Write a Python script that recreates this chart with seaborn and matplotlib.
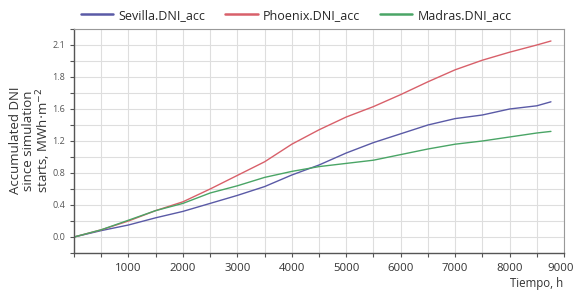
import pandas as pd
import numpy as np
import matplotlib
matplotlib.use("Agg")
import matplotlib.pyplot as plt
import matplotlib.transforms as mtransforms
import seaborn as sns
from matplotlib.ticker import MultipleLocator

hours = [0, 500, 1000, 1500, 2000, 2500, 3000, 3500, 4000, 4500, 5000,
         5500, 6000, 6500, 7000, 7500, 8000, 8500, 8760]
sevilla = [0.0, 0.08, 0.15, 0.24, 0.32, 0.42, 0.52, 0.63, 0.775, 0.90, 1.05,
           1.18, 1.29, 1.40, 1.48, 1.525, 1.60, 1.64, 1.69]
phoenix = [0.0, 0.09, 0.20, 0.33, 0.44, 0.60, 0.77, 0.94, 1.16, 1.34, 1.50,
           1.63, 1.78, 1.94, 2.09, 2.21, 2.31, 2.40, 2.45]
madras = [0.0, 0.09, 0.21, 0.33, 0.42, 0.55, 0.64, 0.745, 0.82, 0.88, 0.92,
          0.96, 1.03, 1.10, 1.16, 1.20, 1.25, 1.30, 1.32]
series_names = ["Sevilla.DNI_acc", "Phoenix.DNI_acc", "Madras.DNI_acc"]
ytick_pos = [0.0, 0.4, 0.8, 1.2, 1.6, 2.0, 2.4]
ytick_labels = ["0.0", "0.4", "0.8", "1.2", "1.6", "1.8", "2.1"]
xtick_pos = [1000, 2000, 3000, 4000, 5000, 6000, 7000, 8000, 9000]

df = pd.DataFrame({"Tiempo": hours * 3,
                   "DNI": sevilla + phoenix + madras,
                   "serie": np.repeat(series_names, len(hours))})

sns.set_style("white")
plt.rcParams['font.family'] = ['Open Sans', 'DejaVu Sans']

fig = plt.figure(figsize=(5.74, 2.90), dpi=100)
ax = fig.add_axes([0.129, 0.1276, 0.8536, 0.7724])

palette = {"Sevilla.DNI_acc": "#5a5aa6", "Phoenix.DNI_acc": "#d8606a",
           "Madras.DNI_acc": "#4aa566"}
sns.lineplot(data=df, x="Tiempo", y="DNI", hue="serie", palette=palette,
             linewidth=1.0, ax=ax, legend=True)

ax.set_xlim(0, 9000)
ax.set_ylim(-0.2, 2.6)
ax.set_xticks(xtick_pos)
ax.set_xticklabels([str(v) for v in xtick_pos], fontsize=8.2, color="#333333")
ax.xaxis.set_minor_locator(MultipleLocator(500))
ax.set_yticks(ytick_pos)
ax.set_yticklabels(ytick_labels, fontsize=6.5, color="#555555")
ax.yaxis.set_minor_locator(MultipleLocator(0.2))
ax.grid(True, which="both", color="#dedede", linewidth=0.8)
ax.tick_params(which="both", direction="out", length=3, width=0.8,
               color="#555555", bottom=True, left=True)
ax.tick_params(axis="x", pad=4)
for side in ["left", "bottom"]:
    ax.spines[side].set_color("#555555")
    ax.spines[side].set_linewidth(1.0)
for side in ["top", "right"]:
    ax.spines[side].set_color("#999999")
    ax.spines[side].set_linewidth(0.8)

# keep the last label inside the picture
last = ax.get_xticklabels()[-1]
last.set_transform(last.get_transform() +
                   mtransforms.ScaledTranslation(-3 / 100, 0, fig.dpi_scale_trans))

ax.set_xlabel("")
ax.set_ylabel("")
fig.text(0.054, 0.515, "Accumulated DNI\nsince simulation\nstarts, MWh$\\cdot$m$^{-2}$",
         fontsize=9.5, color="#333333", rotation=90, ha="center", va="center",
         linespacing=1.0, multialignment="center")
fig.text(0.935, 0.012, "Tiempo, h", fontsize=8.3, color="#333333", ha="center")

handles, labels = ax.get_legend_handles_labels()
ax.legend(handles, labels, loc="center", bbox_to_anchor=(0.516, 0.948),
          bbox_transform=fig.transFigure, ncol=3, frameon=False, fontsize=9,
          handlelength=2.6, columnspacing=1.6, handletextpad=0.4)
for line in ax.get_legend().get_lines():
    line.set_linewidth(1.8)

fig.savefig("out.png", dpi=100)
